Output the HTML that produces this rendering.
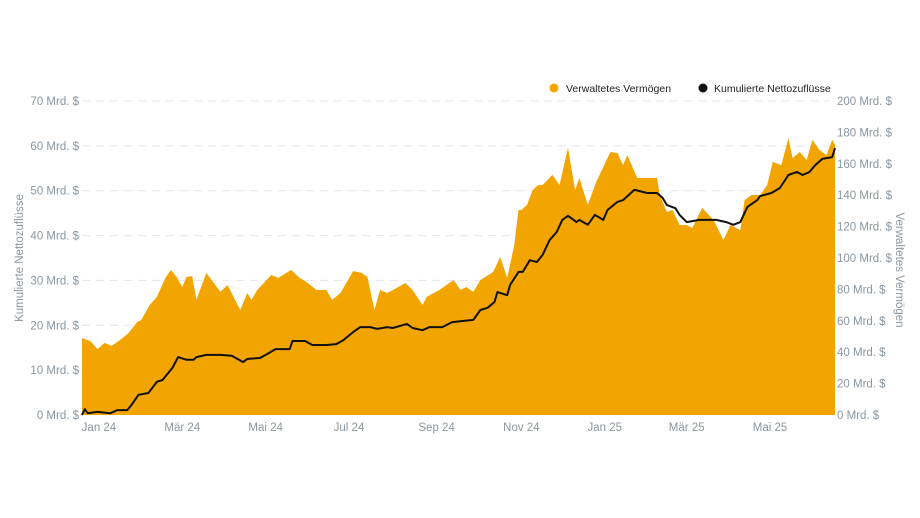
<!DOCTYPE html>
<html><head><meta charset="utf-8"><style>
html,body{margin:0;padding:0;background:#fff;}
svg{display:block;font-family:"Liberation Sans",sans-serif;}
</style></head><body>
<svg id="chart" width="920" height="518" viewBox="0 0 920 518">
<g id="grid"></g>
<g id="area"></g>
<g id="line"></g>
<g id="yl"></g>
<g id="yr"></g>
<g id="xa"></g>
<text transform="translate(23,258) rotate(-90)" text-anchor="middle" font-size="11.5" fill="#8a96a0">Kumulierte Nettozuflüsse</text>
<text transform="translate(896,270) rotate(90)" text-anchor="middle" font-size="11.5" fill="#8a96a0">Verwaltetes Vermögen</text>
<g>
<g><circle cx="554" cy="88" r="4.5" fill="#f2a500"/><text x="566" y="92" font-size="10.5" fill="#222">Verwaltetes Vermögen</text></g>
<g><circle cx="703" cy="88" r="4.5" fill="#111"/><text x="714" y="92" font-size="10.5" fill="#222">Kumulierte Nettozuflüsse</text></g>
</g>
</svg>
<script>
const aumDays=[0,6,11,16,21,27,33,39,42,48,53,59,63,67,71,74,78,81,88,98,103,112,117,120,124,134,139,148,154,159,166,173,177,183,192,198,202,207,211,216,220,229,234,241,244,253,263,268,272,277,282,291,296,301,306,309,311,315,319,323,326,333,338,344,349,352,358,364,374,379,383,386,393,400,407,409,414,418,423,428,432,439,447,454,459,466,469,474,480,485,489,495,500,503,508,513,517,522,527,531,533];
const aumValues=[49,47.1,42,45.9,44,47.8,52.2,59.2,60.5,70.1,75.2,87.3,92.4,87.9,81.5,87.9,88.5,73.3,90.5,78.4,82.8,66.9,77.7,73.3,79.6,89.2,87.3,92.4,87.3,84.7,79.6,79.6,73.3,77.7,91.7,90.5,87.9,66.9,79.6,77.7,79.6,84.1,79.6,70.1,75.2,79.6,86,79.6,81.5,78.4,86,91.1,100.6,87.3,108.3,130.6,130.6,133.8,143.3,146.5,146.5,152.9,146.5,170.1,143.3,151,133.8,148.4,167.5,166.9,159.2,165.6,151,151,151,140.1,129.3,130.6,121,121,119.1,131.9,124.2,111.5,121,117.8,137,140.1,140.1,146.5,161.2,159.2,176.4,163.7,167.5,162.4,175.2,168.8,165.6,175.2,172];
const flowDays=[0,2,4,11,20,25,32,35,40,47,53,57,64,68,74,79,81,88,98,106,114,117,126,130,137,147,149,158,163,173,180,185,192,197,204,209,216,220,230,234,241,246,255,262,277,282,287,292,294,301,303,309,312,317,322,326,331,336,340,344,350,352,358,363,369,372,379,383,391,400,407,411,414,420,423,428,437,449,456,461,466,471,478,480,488,494,500,506,510,515,519,524,531,533];
const flowValues=[0,1.3,0.4,0.7,0.4,1.1,1.1,2.2,4.5,4.9,7.4,7.8,10.5,12.9,12.3,12.3,12.9,13.4,13.4,13.2,11.8,12.5,12.7,13.4,14.7,14.7,16.5,16.5,15.6,15.6,15.8,16.7,18.5,19.6,19.6,19.2,19.6,19.4,20.3,19.4,18.9,19.6,19.6,20.7,21.2,23.4,23.9,25.2,27.4,26.7,29,31.9,31.9,34.5,34.1,35.7,39,40.8,43.5,44.4,43,43.5,42.4,44.6,43.5,45.7,47.5,47.9,50.2,49.5,49.5,48.4,46.8,46.1,44.6,43,43.5,43.5,43,42.4,43,46.4,47.9,48.8,49.5,50.6,53.5,54.2,53.5,54.2,55.7,57.1,57.5,59.5];
const xLabels=["Jan 24","Mär 24","Mai 24","Jul 24","Sep 24","Nov 24","Jan 25","Mär 25","Mai 25"];
const xLabelDays=[12,71,130,189,251,311,370,428,487];
const leftTicks=[0,10,20,30,40,50,60,70];
const rightTicks=[0,20,40,60,80,100,120,140,160,180,200];

const NS="http://www.w3.org/2000/svg";
const X0=82,X1=835,Y0=415,Y1=101,DMAX=533;
const xs=d=>X0+d*(X1-X0)/DMAX;
const yL=v=>Y0-v*(Y0-Y1)/70;
const yR=v=>Y0-v*(Y0-Y1)/200;
function mk(t,a,p){const e=document.createElementNS(NS,t);for(const k in a)e.setAttribute(k,a[k]);p.appendChild(e);return e;}
const grid=document.getElementById('grid'),yl=document.getElementById('yl'),yr=document.getElementById('yr'),xa=document.getElementById('xa');
leftTicks.forEach(v=>{
  if(v>0){const g=mk('line',{x1:X0,x2:830,y1:yL(v),y2:yL(v),stroke:'#e3e6ea','stroke-dasharray':'8,6'},grid);
  
  }
  const t=mk('text',{x:79,y:yL(v)+4,'text-anchor':'end','font-size':11.5,fill:'#8a96a0'},yl);
  t.textContent=v+' Mrd. $';
  
  
});
rightTicks.forEach(v=>{
  const t=mk('text',{x:837,y:yR(v)+4,'font-size':11.5,fill:'#8a96a0'},yr);
  t.textContent=v+' Mrd. $';
  
  
});
xLabels.forEach((l,i)=>{
  const t=mk('text',{x:xs(xLabelDays[i]),y:431,'text-anchor':'middle','font-size':11.5,fill:'#8a96a0'},xa);
  t.textContent=l;
  
  
});
let d='M'+xs(aumDays[0])+','+Y0;
aumDays.forEach((dd,i)=>{d+=' L'+xs(dd).toFixed(1)+','+yR(aumValues[i]).toFixed(1);});
d+=' L'+xs(aumDays[aumDays.length-1])+','+Y0+' Z';
const a=mk('path',{d:d,fill:'#f2a500'},document.getElementById('area'));


const pts=flowDays.map((dd,i)=>xs(dd).toFixed(1)+','+yL(flowValues[i]).toFixed(1)).join(' ');
const p=mk('polyline',{points:pts,fill:'none',stroke:'#111','stroke-width':2,'stroke-linejoin':'round'},document.getElementById('line'));


</script>
</body></html>
